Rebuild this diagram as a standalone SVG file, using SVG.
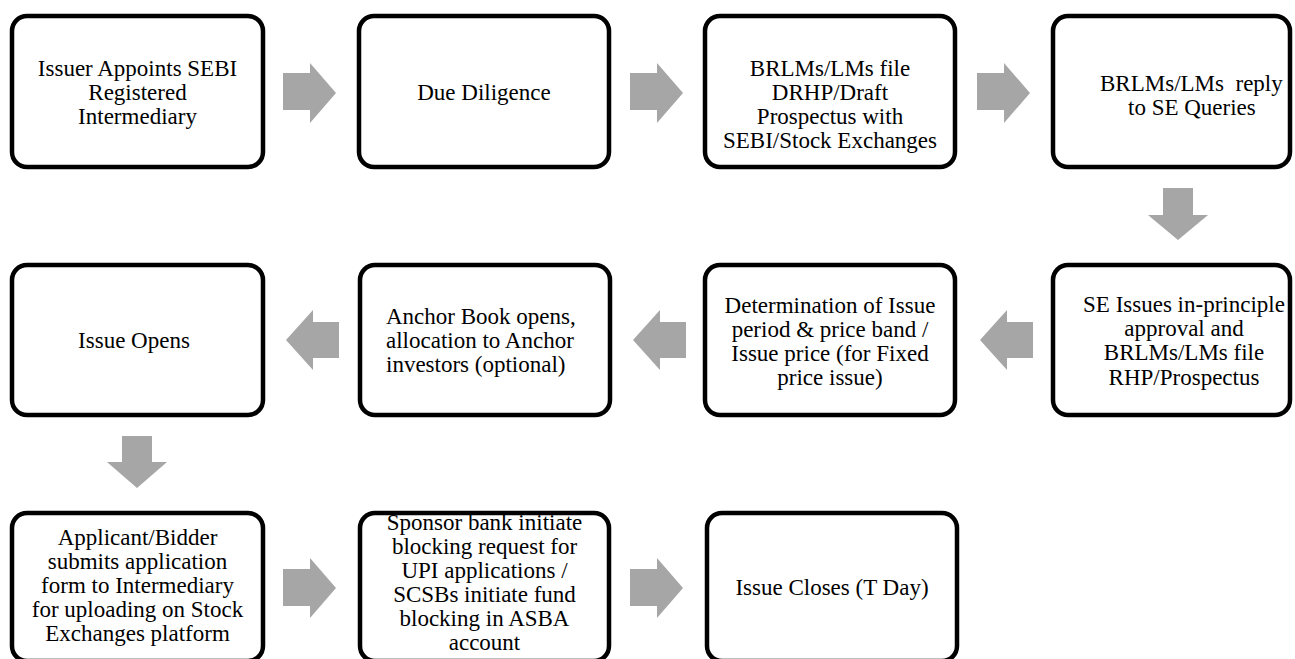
<svg xmlns="http://www.w3.org/2000/svg" width="1295" height="659" viewBox="0 0 1295 659">
<style>
.box{fill:#ffffff;stroke:#000000;stroke-width:4.5}
.arr{fill:#a6a6a6;stroke:none}
text{font-family:"Liberation Serif","Times New Roman",serif;font-size:23px;fill:#000000}
.c{text-anchor:middle}
.pre{white-space:pre}
</style>
<rect width="1295" height="659" fill="#ffffff"/>
<g id="connectors">
<polygon class="arr" points="283,73 310,73 310,63 336,93 310,123 310,110 283,110"/>
<polygon class="arr" points="630,73 657,73 657,63 683,93 657,123 657,110 630,110"/>
<polygon class="arr" points="977,73 1004,73 1004,63 1030,93 1004,123 1004,110 977,110"/>
<polygon class="arr" points="1163,188 1193,188 1193,215 1208,215 1178,240 1148,215 1163,215"/>
<polygon class="arr" points="1033,322 1007,322 1007,310 980,340 1007,370 1007,358 1033,358"/>
<polygon class="arr" points="686,322 660,322 660,310 633,340 660,370 660,358 686,358"/>
<polygon class="arr" points="339,322 313,322 313,310 286,340 313,370 313,358 339,358"/>
<polygon class="arr" points="122,436 152,436 152,462 167,462 137,488 107,462 122,462"/>
<polygon class="arr" points="283,569 310,569 310,558 336,588 310,618 310,606 283,606"/>
<polygon class="arr" points="630,569 657,569 657,558 683,588 657,618 657,606 630,606"/>
</g>
<g id="n1">
<rect class="box" x="12" y="16" width="251" height="151" rx="15"/>
<text class="c"><tspan x="137.5" y="76">Issuer Appoints SEBI</tspan><tspan x="137.5" y="100">Registered</tspan><tspan x="137.5" y="124">Intermediary</tspan></text>
</g>
<g id="n2">
<rect class="box" x="359" y="16" width="250" height="151" rx="15"/>
<text class="c" x="484" y="100">Due Diligence</text>
</g>
<g id="n3">
<rect class="box" x="705" y="16" width="250" height="151" rx="15"/>
<text class="c"><tspan x="830" y="76">BRLMs/LMs file</tspan><tspan x="830" y="100">DRHP/Draft</tspan><tspan x="830" y="124">Prospectus with</tspan><tspan x="830" y="148">SEBI/Stock Exchanges</tspan></text>
</g>
<g id="n4">
<rect class="box" x="1053" y="16" width="237" height="151" rx="15"/>
<text class="pre"><tspan x="1100" y="91">BRLMs/LMs  reply</tspan><tspan x="1128" y="115">to SE Queries</tspan></text>
</g>
<g id="n5">
<rect class="box" x="1053" y="265" width="237" height="150" rx="15"/>
<text class="c"><tspan x="1184" y="312">SE Issues in-principle</tspan><tspan x="1184" y="336">approval and</tspan><tspan x="1184" y="360">BRLMs/LMs file</tspan><tspan x="1184" y="385">RHP/Prospectus</tspan></text>
</g>
<g id="n6">
<rect class="box" x="705" y="265" width="250" height="150" rx="15"/>
<text class="c"><tspan x="830" y="313">Determination of Issue</tspan><tspan x="830" y="337">period &amp; price band /</tspan><tspan x="830" y="361">Issue price (for Fixed</tspan><tspan x="830" y="385">price issue)</tspan></text>
</g>
<g id="n7">
<rect class="box" x="360" y="265" width="250" height="150" rx="15"/>
<text><tspan x="386" y="324">Anchor Book opens,</tspan><tspan x="386" y="348">allocation to Anchor</tspan><tspan x="386" y="372">investors (optional)</tspan></text>
</g>
<g id="n8">
<rect class="box" x="12" y="265" width="251" height="150" rx="15"/>
<text class="c" x="134" y="348">Issue Opens</text>
</g>
<g id="n9">
<rect class="box" x="12" y="513" width="251" height="148" rx="15"/>
<text class="c"><tspan x="137.5" y="545">Applicant/Bidder</tspan><tspan x="137.5" y="569">submits application</tspan><tspan x="137.5" y="593">form to Intermediary</tspan><tspan x="137.5" y="617">for uploading on Stock</tspan><tspan x="137.5" y="641">Exchanges platform</tspan></text>
</g>
<g id="n10">
<rect class="box" x="360" y="513" width="249" height="148" rx="15"/>
<text class="c"><tspan x="484.5" y="530">Sponsor bank initiate</tspan><tspan x="484.5" y="554">blocking request for</tspan><tspan x="484.5" y="578">UPI applications /</tspan><tspan x="484.5" y="602">SCSBs initiate fund</tspan><tspan x="484.5" y="626">blocking in ASBA</tspan><tspan x="484.5" y="650">account</tspan></text>
</g>
<g id="n11">
<rect class="box" x="707" y="513" width="250" height="148" rx="15"/>
<text class="c" x="832" y="595">Issue Closes (T Day)</text>
</g>
</svg>
